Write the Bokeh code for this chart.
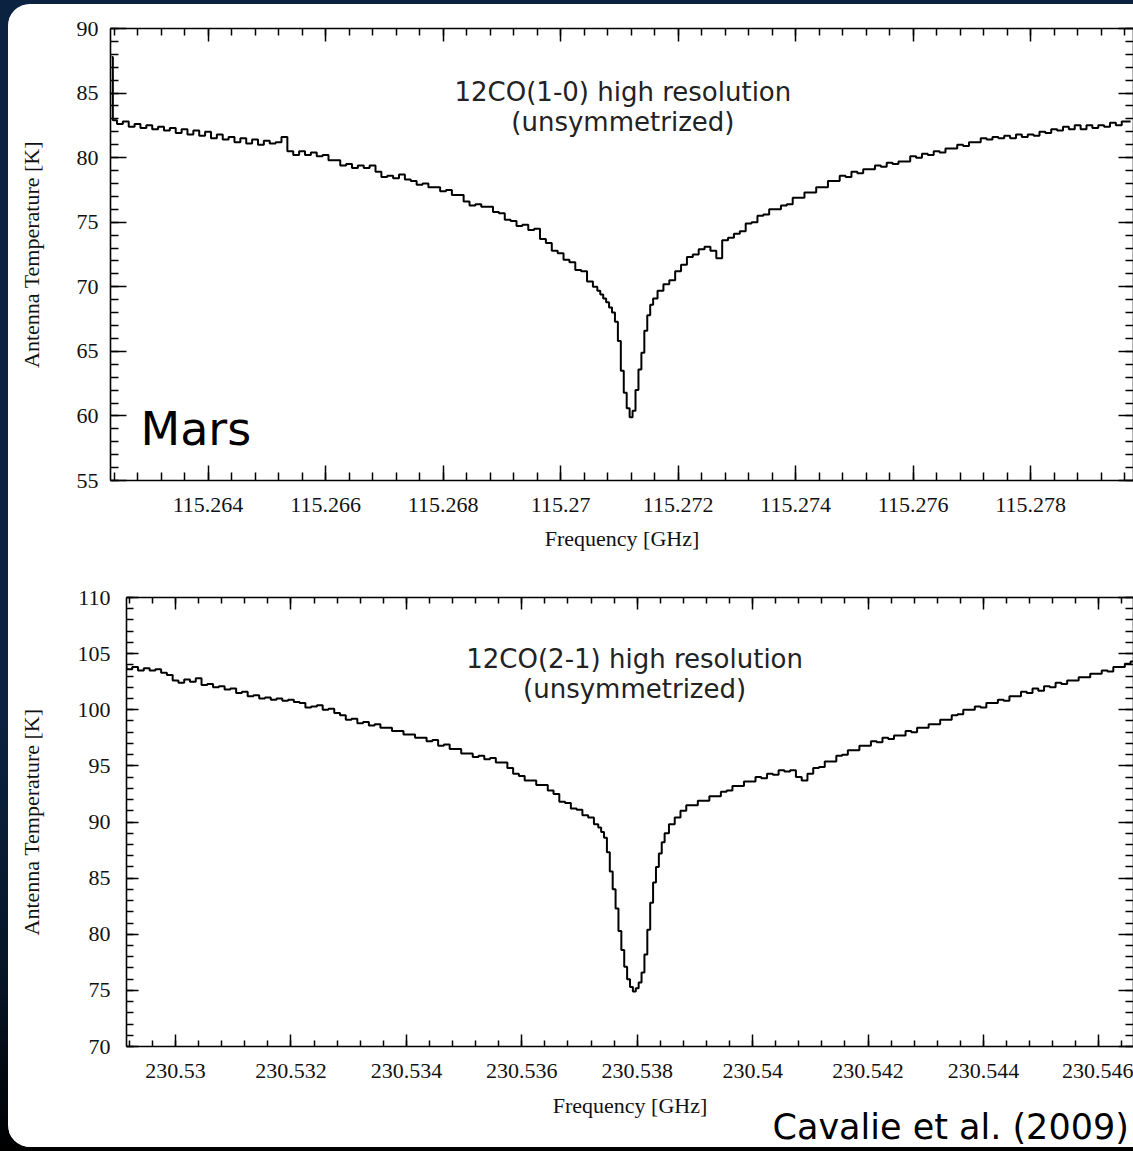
import numpy as np
from bokeh.plotting import figure
from bokeh.models import LinearAxis, FixedTicker, Label, Range1d, Title
from bokeh.layouts import column
from bokeh.embed import file_html
from bokeh.resources import INLINE

# ---------------- data: 12CO(1-0) ----------------
co10_freq = [115.26236,
    115.2624, 115.2625, 115.2626, 115.2627, 115.2628, 115.2629,
    115.2630, 115.2631, 115.2632, 115.2633, 115.2634, 115.2635, 115.2636, 115.2637, 115.2638, 115.2639,
    115.2640, 115.2641, 115.2642, 115.2643, 115.2644, 115.2645, 115.2646, 115.2647, 115.2648, 115.2649,
    115.2650, 115.2651, 115.2652, 115.2653, 115.2654, 115.2655, 115.2656, 115.2657, 115.2658, 115.2659,
    115.2660, 115.2661, 115.2662, 115.2663, 115.2664, 115.2665, 115.2666, 115.2667, 115.2668, 115.2669,
    115.2670, 115.2671, 115.2672, 115.2673, 115.2674, 115.2675, 115.2676, 115.2677, 115.2678, 115.2679,
    115.2680, 115.2681, 115.2682, 115.2683, 115.2684, 115.2685, 115.2686, 115.2687, 115.2688, 115.2689,
    115.2690, 115.2691, 115.2692, 115.2693, 115.2694, 115.2695, 115.2696, 115.2697, 115.2698, 115.2699,
    115.2700, 115.2701, 115.2702, 115.2703, 115.2704, 115.2705, 115.2706, 115.27065, 115.2707, 115.27075,
    115.2708, 115.27085, 115.2709, 115.27095,
    115.2710, 115.27105, 115.2711, 115.27115, 115.2712, 115.27125, 115.2713, 115.27135, 115.2714, 115.27145,
    115.2715, 115.27155, 115.2716, 115.2717, 115.2718, 115.2719,
    115.2720, 115.2721, 115.2722, 115.2723, 115.2724, 115.2725, 115.2726, 115.2727, 115.2728, 115.2729,
    115.2730, 115.2731, 115.2732, 115.2733, 115.2734, 115.2735, 115.2736, 115.2737, 115.2738, 115.2739,
    115.2740, 115.2741, 115.2742, 115.2743, 115.2744, 115.2745, 115.2746, 115.2747, 115.2748, 115.2749,
    115.2750, 115.2751, 115.2752, 115.2753, 115.2754, 115.2755, 115.2756, 115.2757, 115.2758, 115.2759,
    115.2760, 115.2761, 115.2762, 115.2763, 115.2764, 115.2765, 115.2766, 115.2767, 115.2768, 115.2769,
    115.2770, 115.2771, 115.2772, 115.2773, 115.2774, 115.2775, 115.2776, 115.2777, 115.2778, 115.2779,
    115.2780, 115.2781, 115.2782, 115.2783, 115.2784, 115.2785, 115.2786, 115.2787, 115.2788, 115.2789,
    115.2790, 115.2791, 115.2792, 115.2793, 115.2794, 115.2795, 115.2796, 115.2797]
co10_temp = [87.8,
    82.9, 82.6, 82.8, 82.4, 82.6, 82.3, 82.5, 82.2, 82.4, 82.1,
    82.3, 81.9, 82.2, 81.8, 82.1, 81.7, 82.0, 81.5, 81.8, 81.4,
    81.6, 81.2, 81.5, 81.1, 81.4, 81.0, 81.3, 81.1, 81.2, 81.6,
    80.5, 80.2, 80.5, 80.2, 80.4, 80.1, 80.2, 79.8, 79.8, 79.4,
    79.5, 79.2, 79.4, 79.2, 79.4, 78.9, 78.5, 78.6, 78.4, 78.7,
    78.3, 78.2, 77.9, 78.0, 77.7, 77.7, 77.4, 77.5, 77.1, 77.1,
    76.6, 76.3, 76.4, 76.2, 76.2, 75.8, 75.7, 75.2, 75.1, 74.7,
    74.8, 74.4, 74.5, 73.7, 73.4, 72.8, 72.6, 72.1, 71.9, 71.3,
    71.2, 70.4, 70.0, 69.7, 69.4, 69.1, 68.8, 68.4, 68.0, 67.3,
    65.8, 63.5, 61.8, 60.6, 59.9, 60.4, 62.0, 63.6, 64.9, 66.6,
    67.8, 68.6, 69.1, 69.7, 70.2, 70.5, 71.2, 71.7, 72.3, 72.5,
    72.9, 73.1, 72.8, 72.2, 73.6, 73.8, 74.1, 74.3, 74.9, 75.0,
    75.5, 75.6, 76.0, 76.0, 76.3, 76.4, 76.9, 76.9, 77.3, 77.3,
    77.7, 77.7, 78.2, 78.2, 78.6, 78.5, 78.9, 78.8, 79.1, 79.1,
    79.4, 79.3, 79.6, 79.5, 79.7, 79.7, 80.1, 80.0, 80.3, 80.2,
    80.5, 80.4, 80.7, 80.7, 81.0, 80.9, 81.2, 81.2, 81.5, 81.4,
    81.6, 81.5, 81.7, 81.5, 81.8, 81.6, 81.8, 81.7, 82.0, 81.9,
    82.2, 82.1, 82.4, 82.2, 82.5, 82.2, 82.5, 82.3, 82.5, 82.4,
    82.7, 82.5, 82.8, 82.8]

# ---------------- data: 12CO(2-1) ----------------
co21_freq = [
    230.5291, 230.5292, 230.5293, 230.5294, 230.5295, 230.5296, 230.5297, 230.5298, 230.5299,
    230.5300, 230.5301, 230.5302, 230.5303, 230.5304, 230.5305, 230.5306, 230.5307, 230.5308, 230.5309,
    230.5310, 230.5311, 230.5312, 230.5313, 230.5314, 230.5315, 230.5316, 230.5317, 230.5318, 230.5319,
    230.5320, 230.5321, 230.5322, 230.5323, 230.5324, 230.5325, 230.5326, 230.5327, 230.5328, 230.5329,
    230.5330, 230.5331, 230.5332, 230.5333, 230.5334, 230.5335, 230.5336, 230.5337, 230.5338, 230.5339,
    230.5340, 230.5341, 230.5342, 230.5343, 230.5344, 230.5345, 230.5346, 230.5347, 230.5348, 230.5349,
    230.5350, 230.5351, 230.5352, 230.5353, 230.5354, 230.5355, 230.5356, 230.5357, 230.5358, 230.5359,
    230.5360, 230.5361, 230.5362, 230.5363, 230.5364, 230.5365, 230.5366, 230.5367, 230.5368, 230.5369,
    230.5370, 230.5371, 230.5372, 230.5373, 230.53735, 230.5374, 230.53745, 230.5375, 230.53755, 230.5376,
    230.53765, 230.5377, 230.53775, 230.5378, 230.53785, 230.5379, 230.53795,
    230.5380, 230.53805, 230.5381, 230.53815, 230.5382, 230.53825, 230.5383, 230.53835, 230.5384, 230.53845,
    230.5385, 230.5386, 230.5387, 230.5388, 230.5389,
    230.5390, 230.5391, 230.5392, 230.5393, 230.5394, 230.5395, 230.5396, 230.5397, 230.5398, 230.5399,
    230.5400, 230.5401, 230.5402, 230.5403, 230.5404, 230.5405, 230.5406, 230.5407, 230.5408, 230.5409,
    230.5410, 230.5411, 230.5412, 230.5413, 230.5414, 230.5415, 230.5416, 230.5417, 230.5418, 230.5419,
    230.5420, 230.5421, 230.5422, 230.5423, 230.5424, 230.5425, 230.5426, 230.5427, 230.5428, 230.5429,
    230.5430, 230.5431, 230.5432, 230.5433, 230.5434, 230.5435, 230.5436, 230.5437, 230.5438, 230.5439,
    230.5440, 230.5441, 230.5442, 230.5443, 230.5444, 230.5445, 230.5446, 230.5447, 230.5448, 230.5449,
    230.5450, 230.5451, 230.5452, 230.5453, 230.5454, 230.5455, 230.5456, 230.5457, 230.5458, 230.5459,
    230.5460, 230.5461, 230.5462, 230.5463, 230.5464, 230.5465, 230.5466]
co21_temp = [
    103.9, 103.6, 103.8, 103.5, 103.7, 103.5, 103.6, 103.3, 103.1, 102.6,
    102.4, 102.7, 102.5, 102.8, 102.2, 102.3, 102.0, 102.1, 101.8, 101.9,
    101.5, 101.6, 101.2, 101.3, 101.0, 101.1, 100.9, 101.0, 100.8, 100.9,
    100.7, 100.6, 100.2, 100.3, 100.4, 100.0, 100.1, 99.7, 99.5, 99.1,
    99.2, 98.8, 98.9, 98.6, 98.7, 98.4, 98.4, 98.1, 98.1, 97.8,
    97.8, 97.5, 97.5, 97.2, 97.3, 96.8, 96.9, 96.5, 96.5, 96.1,
    96.1, 95.8, 95.9, 95.6, 95.7, 95.3, 95.3, 94.8, 94.3, 94.1,
    93.7, 93.7, 93.3, 93.3, 92.8, 92.5, 91.8, 91.7, 91.2, 91.1,
    90.6, 90.4, 89.8, 89.5, 89.1, 88.6, 87.3, 85.6, 84.0, 82.3,
    80.3, 78.6, 77.1, 76.0, 75.3, 74.9, 75.2, 75.7, 76.6, 78.2,
    80.4, 82.8, 84.6, 86.0, 87.2, 88.2, 89.0,
    89.8, 90.4, 91.0, 91.5, 91.5,
    91.9, 91.9, 92.3, 92.3, 92.7, 92.8, 93.2, 93.2, 93.6, 93.6,
    94.0, 93.9, 94.3, 94.2, 94.6, 94.5, 94.6, 94.0, 93.7, 94.3,
    94.8, 94.9, 95.4, 95.4, 95.9, 96.0, 96.4, 96.4, 96.8, 96.8,
    97.2, 97.1, 97.5, 97.4, 97.7, 97.7, 98.1, 98.0, 98.4, 98.4,
    98.7, 98.7, 99.1, 99.1, 99.5, 99.6, 100.0, 100.0, 100.3, 100.2,
    100.6, 100.6, 100.9, 100.8, 101.2, 101.2, 101.6, 101.5, 101.9, 101.7,
    102.1, 102.0, 102.4, 102.3, 102.6, 102.6, 102.9, 102.9, 103.2, 103.2,
    103.5, 103.4, 103.8, 103.8, 104.1, 104.3]

# ---------------- ticks and texts ----------------
top_xticks = [115.264, 115.266, 115.268, 115.27, 115.272, 115.274, 115.276, 115.278]
top_xlabels = ["115.264", "115.266", "115.268", "115.27", "115.272", "115.274", "115.276", "115.278"]
top_yticks = [55, 60, 65, 70, 75, 80, 85, 90]
top_ylabels = ["55", "60", "65", "70", "75", "80", "85", "90"]

bot_xticks = [230.53, 230.532, 230.534, 230.536, 230.538, 230.54, 230.542, 230.544, 230.546]
bot_xlabels = ["230.53", "230.532", "230.534", "230.536", "230.538", "230.54", "230.542", "230.544", "230.546"]
bot_yticks = [70, 75, 80, 85, 90, 95, 100, 105, 110]
bot_ylabels = ["70", "75", "80", "85", "90", "95", "100", "105", "110"]

top_title = ["12CO(1-0) high resolution", "(unsymmetrized)"]
bot_title = ["12CO(2-1) high resolution", "(unsymmetrized)"]
x_label = "Frequency [GHz]"
y_label = "Antenna Temperature [K]"
planet = "Mars"
citation = "Cavalie et al. (2009)"

SERIF = "Liberation Serif"
SANS = "DejaVu Sans"

n10 = min(len(co10_freq), len(co10_temp))
n21 = min(len(co21_freq), len(co21_temp))


def add_axis(p, side, ticks, minor, labels, tick_in, minor_in, standoff=10,
             axis_label=None, label_standoff=10):
    ax = LinearAxis()
    ax.ticker = FixedTicker(ticks=ticks, minor_ticks=minor)
    ax.major_tick_in = tick_in
    ax.major_tick_out = 0
    ax.minor_tick_in = minor_in
    ax.minor_tick_out = 0
    ax.axis_line_color = "black"
    ax.axis_line_width = 1.6
    ax.major_tick_line_color = "black"
    ax.major_tick_line_width = 1.5
    ax.minor_tick_line_color = "black"
    ax.minor_tick_line_width = 1.5
    if labels is None:
        ax.major_label_overrides = {t: "" for t in ticks}
        ax.major_label_standoff = 0
    else:
        ax.major_label_overrides = dict(zip(ticks, labels))
        ax.major_label_standoff = standoff
        ax.major_label_text_font = SERIF
        ax.major_label_text_font_size = "22px"
        ax.major_label_text_color = "#111111"
        ax.major_label_orientation = "horizontal"
    if axis_label is not None:
        ax.axis_label = axis_label
        ax.axis_label_text_font = SERIF
        ax.axis_label_text_font_size = "22px"
        ax.axis_label_text_font_style = "normal"
        ax.axis_label_text_color = "#111111"
        ax.axis_label_standoff = label_standoff
    p.add_layout(ax, side)
    return ax


def make_plot(width, height, xr, yr, mb_left, mb_top, mb_bottom):
    p = figure(width=width, height=height, x_range=Range1d(*xr), y_range=Range1d(*yr),
               output_backend="svg", toolbar_location=None,
               x_axis_type=None, y_axis_type=None, frame_align=False,
               min_border_left=mb_left, min_border_right=0,
               min_border_top=mb_top, min_border_bottom=mb_bottom)
    p.outline_line_color = None
    p.background_fill_color = "white"
    p.border_fill_color = "white"
    return p


def add_text(p, x, y, text, size, color, align="center"):
    p.add_layout(Label(x=x, y=y, text=text, text_font=SANS, text_font_size=size,
                       text_color=color, text_align=align, text_baseline="middle"))


# ---------------- top panel ----------------
p1 = make_plot(1125, 566, (115.26234, 115.27975), (55, 90), 102, 24, 90)
top_xminor = list(np.round(115.2624 + 0.0004 * np.arange(44), 5))
top_yminor = list(range(55, 91))
add_axis(p1, "below", top_xticks, top_xminor, top_xlabels, 15, 8, standoff=17,
         axis_label=x_label, label_standoff=11)
add_axis(p1, "above", top_xticks, top_xminor, None, 13, 7)
add_axis(p1, "left", top_yticks, top_yminor, top_ylabels, 16, 8, standoff=12,
         axis_label=y_label, label_standoff=30)
add_axis(p1, "right", top_yticks, top_yminor, None, 15, 8)
p1.step(co10_freq[:n10], co10_temp[:n10], mode="center", line_color="black", line_width=2)

add_text(p1, 115.27106, 85.06, top_title[0], "26px", "#222222")
add_text(p1, 115.27106, 82.74, top_title[1], "26px", "#222222")
add_text(p1, 115.26285, 58.98, planet, "46px", "black", align="left")

# ---------------- bottom panel ----------------
p2 = make_plot(1125, 577, (230.52915, 230.5466), (70, 110), 118, 27, 101)
bot_xminor = list(np.round(230.5292 + 0.0004 * np.arange(44), 5))
bot_yminor = list(range(70, 111))
add_axis(p2, "below", bot_xticks, bot_xminor, bot_xlabels, 12, 6, standoff=17,
         axis_label=x_label, label_standoff=12)
add_axis(p2, "above", bot_xticks, bot_xminor, None, 12, 6)
add_axis(p2, "left", bot_yticks, bot_yminor, bot_ylabels, 12, 7, standoff=16,
         axis_label=y_label, label_standoff=31)
add_axis(p2, "right", bot_yticks, bot_yminor, None, 15, 8)
p2.step(co21_freq[:n21], co21_temp[:n21], mode="center", line_color="black", line_width=2)

add_text(p2, 230.537955, 104.56, bot_title[0], "26px", "#222222")
add_text(p2, 230.537955, 101.85, bot_title[1], "26px", "#222222")

cite = Title(text=citation, align="left", vertical_align="top", offset=646, standoff=-28,
             text_font=SANS, text_font_size="35px", text_font_style="normal",
             text_color="black")
p2.add_layout(cite, "below")

panel = column(p1, p2, spacing=0,
               styles={"background-color": "white",
                       "border-radius": "22px 0px 0px 22px",
                       "overflow": "hidden"})
page = column(panel,
              styles={"background": "linear-gradient(to bottom, #0b2341 0%, #0b2341 62%, #061526 85%, #000000 100%)",
                      "padding": "4px 0px 4px 8px"})

with open("out.html", "w") as f:
    f.write(file_html(page, INLINE))
